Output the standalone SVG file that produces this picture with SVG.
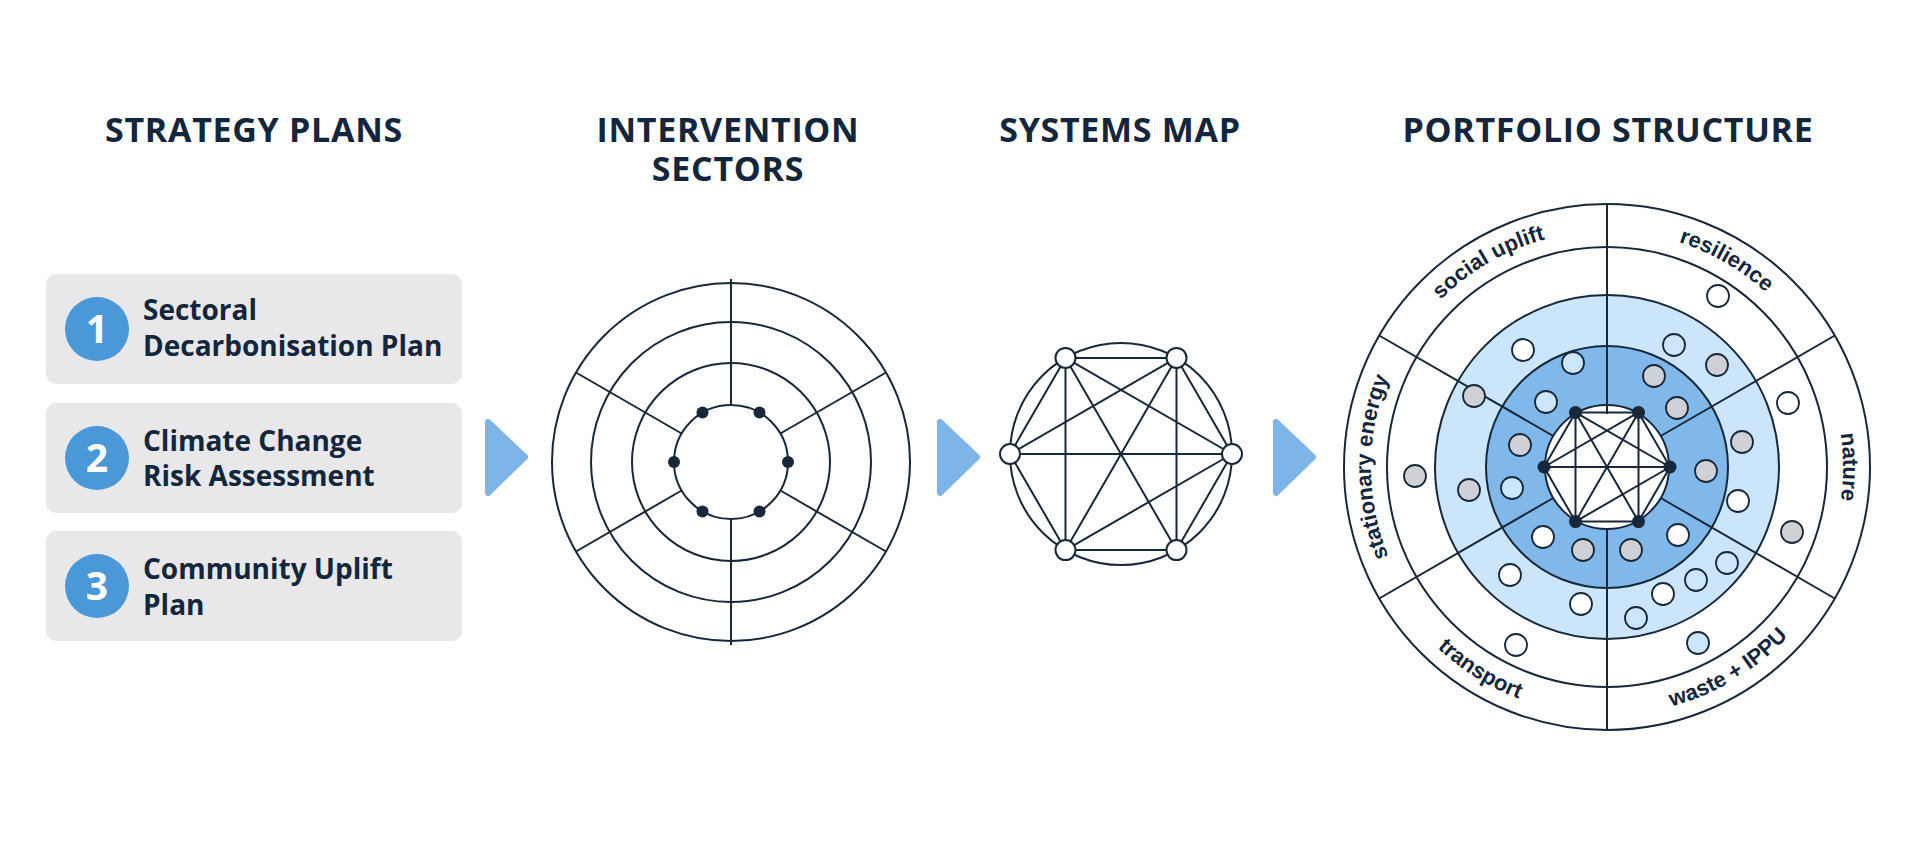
<svg xmlns="http://www.w3.org/2000/svg" width="1920" height="843" viewBox="0 0 1920 843">
<style>
.title{font-family:"Open Sans","Noto Sans",sans-serif;font-weight:700;font-size:34px;fill:#13263b;letter-spacing:0.7px;text-anchor:middle}
.box{fill:#e8e8eb}
.num{fill:#4a98d8}
.numt{font-family:"Open Sans","Noto Sans",sans-serif;font-weight:700;font-size:39px;fill:#ffffff;text-anchor:middle}
.lbl{font-family:"Open Sans","Noto Sans",sans-serif;font-weight:700;font-size:28px;fill:#13263b}
.ln{fill:none;stroke:#17283a;stroke-width:2}
.arrow{fill:#7db5e8;stroke:#7db5e8;stroke-width:6;stroke-linejoin:round}
.nodew{fill:#ffffff;stroke:#17283a;stroke-width:2}
.noded{fill:#17283a}
.arc{font-family:"Liberation Sans",Arial,sans-serif;font-weight:700;font-size:22px;fill:#13263b}
.dw{fill:#ffffff;stroke:#17283a;stroke-width:1.8}
.dg{fill:#cfd1d7;stroke:#17283a;stroke-width:1.8}
.db{fill:#cce6fb;stroke:#17283a;stroke-width:1.8}
</style>
<defs>
<path id="p-social" d="M1371,467 A236,236 0 0 1 1725,262.6"/>
<path id="p-res" d="M1489,262.6 A236,236 0 0 1 1843,467"/>
<path id="p-nat" d="M1725,262.6 A236,236 0 0 1 1725,671.4"/>
<path id="p-stat" d="M1489,671.4 A236,236 0 0 1 1489,262.6"/>
<path id="p-trans" d="M1359.2,458.3 A248,248 0 0 0 1723.4,686"/>
<path id="p-waste" d="M1486.8,683.9 A248,248 0 0 0 1854.96,462.7"/>
</defs>
<rect width="1920" height="843" fill="#ffffff"/>

<g id="titles">
<text class="title" x="254" y="142">STRATEGY PLANS</text>
<text class="title" x="728" y="142">INTERVENTION</text>
<text class="title" x="728" y="181">SECTORS</text>
<text class="title" x="1120" y="142">SYSTEMS MAP</text>
<text class="title" x="1608" y="142">PORTFOLIO STRUCTURE</text>
</g>

<g id="plan-1">
<rect class="box" x="46" y="274" width="416" height="110" rx="10"/>
<circle class="num" cx="97" cy="329" r="32"/>
<text class="numt" x="97" y="343">1</text>
<text class="lbl" x="143" y="320">Sectoral</text>
<text class="lbl" x="143" y="356">Decarbonisation Plan</text>
</g>
<g id="plan-2">
<rect class="box" x="46" y="403" width="416" height="110" rx="10"/>
<circle class="num" cx="97" cy="458" r="32"/>
<text class="numt" x="97" y="472">2</text>
<text class="lbl" x="143" y="451">Climate Change</text>
<text class="lbl" x="143" y="486">Risk Assessment</text>
</g>
<g id="plan-3">
<rect class="box" x="46" y="531" width="416" height="110" rx="10"/>
<circle class="num" cx="97" cy="586" r="32"/>
<text class="numt" x="97" y="600">3</text>
<text class="lbl" x="143" y="579">Community Uplift</text>
<text class="lbl" x="143" y="615">Plan</text>
</g>

<g id="intervention-sectors">
<circle class="ln" cx="731" cy="462" r="179"/>
<circle class="ln" cx="731" cy="462" r="140"/>
<circle class="ln" cx="731" cy="462" r="99"/>
<circle class="ln" cx="731" cy="462" r="57"/>
<path class="ln" d="M731,279V405 M731,519V645 M780.4,433.5L886,372.5 M681.6,433.5L576,372.5 M681.6,490.5L576,551.5 M780.4,490.5L886,551.5"/>
<circle class="noded" cx="788" cy="462" r="6"/>
<circle class="noded" cx="759.5" cy="412.6" r="6"/>
<circle class="noded" cx="702.5" cy="412.6" r="6"/>
<circle class="noded" cx="674" cy="462" r="6"/>
<circle class="noded" cx="702.5" cy="511.4" r="6"/>
<circle class="noded" cx="759.5" cy="511.4" r="6"/>
</g>

<g id="systems-map">
<circle class="ln" cx="1121" cy="454" r="111"/>
<path class="ln" d="M1065.5,357.9L1176.5,357.9 M1065.5,550.1L1176.5,550.1 M1010,454L1232,454 M1065.5,357.9L1065.5,550.1 M1176.5,357.9L1176.5,550.1 M1065.5,357.9L1010,454 M1010,454L1065.5,550.1 M1176.5,357.9L1232,454 M1232,454L1176.5,550.1 M1065.5,357.9L1232,454 M1176.5,357.9L1010,454 M1065.5,357.9L1176.5,550.1 M1176.5,357.9L1065.5,550.1 M1065.5,550.1L1232,454"/>
<circle class="nodew" cx="1065.5" cy="357.9" r="10"/>
<circle class="nodew" cx="1176.5" cy="357.9" r="10"/>
<circle class="nodew" cx="1010" cy="454" r="10"/>
<circle class="nodew" cx="1232" cy="454" r="10"/>
<circle class="nodew" cx="1065.5" cy="550.1" r="10"/>
<circle class="nodew" cx="1176.5" cy="550.1" r="10"/>
</g>

<g id="portfolio-structure">
<circle class="ln" cx="1607" cy="467" r="263" fill="#ffffff"/>
<circle class="ln" cx="1607" cy="467" r="220"/>
<circle cx="1607" cy="467" r="172" fill="#cbe5fa" stroke="#17283a" stroke-width="2"/>
<circle cx="1607" cy="467" r="121" fill="#80b8ea" stroke="#17283a" stroke-width="2"/>
<circle cx="1607" cy="467" r="62" fill="#ffffff" stroke="#17283a" stroke-width="2"/>
<path class="ln" d="M1607,204V414 M1607,529V730 M1660.7,436L1834.8,335.5 M1553.3,436L1379.2,335.5 M1553.3,498L1379.2,598.5 M1660.7,498L1834.8,598.5"/>
<path class="ln" d="M1575.5,412.4L1638.5,412.4 M1575.5,521.6L1638.5,521.6 M1544,467L1670,467 M1575.5,412.4L1575.5,521.6 M1638.5,412.4L1638.5,521.6 M1575.5,412.4L1544,467 M1544,467L1575.5,521.6 M1638.5,412.4L1670,467 M1670,467L1638.5,521.6 M1575.5,412.4L1670,467 M1638.5,412.4L1544,467 M1575.5,412.4L1638.5,521.6 M1638.5,412.4L1575.5,521.6 M1575.5,521.6L1670,467"/>
<circle class="noded" cx="1575.5" cy="412.4" r="6.5"/>
<circle class="noded" cx="1638.5" cy="412.4" r="6.5"/>
<circle class="noded" cx="1544" cy="467" r="6.5"/>
<circle class="noded" cx="1670" cy="467" r="6.5"/>
<circle class="noded" cx="1575.5" cy="521.6" r="6.5"/>
<circle class="noded" cx="1638.5" cy="521.6" r="6.5"/>
<circle class="dw" cx="1718" cy="296" r="11"/>
<circle class="dw" cx="1523" cy="350" r="11"/>
<circle class="dw" cx="1788" cy="403" r="11"/>
<circle class="dw" cx="1738" cy="501" r="11"/>
<circle class="dw" cx="1543" cy="537" r="11"/>
<circle class="dw" cx="1678" cy="535" r="11"/>
<circle class="dw" cx="1510" cy="575" r="11"/>
<circle class="dw" cx="1663" cy="594" r="11"/>
<circle class="dw" cx="1581" cy="604" r="11"/>
<circle class="dw" cx="1516" cy="645" r="11"/>
<circle class="dg" cx="1717" cy="365" r="11"/>
<circle class="dg" cx="1654" cy="376" r="11"/>
<circle class="dg" cx="1474" cy="396" r="11"/>
<circle class="dg" cx="1677" cy="408" r="11"/>
<circle class="dg" cx="1520" cy="445" r="11"/>
<circle class="dg" cx="1742" cy="442" r="11"/>
<circle class="dg" cx="1706" cy="471" r="11"/>
<circle class="dg" cx="1415" cy="476" r="11"/>
<circle class="dg" cx="1469" cy="490" r="11"/>
<circle class="dg" cx="1583" cy="550" r="11"/>
<circle class="dg" cx="1631" cy="550" r="11"/>
<circle class="dg" cx="1792" cy="532" r="11"/>
<circle class="db" cx="1573" cy="363" r="11"/>
<circle class="db" cx="1674" cy="345" r="11"/>
<circle class="db" cx="1546" cy="402" r="11"/>
<circle class="db" cx="1512" cy="488" r="11"/>
<circle class="db" cx="1727" cy="563" r="11"/>
<circle class="db" cx="1696" cy="580" r="11"/>
<circle class="db" cx="1636" cy="618" r="11"/>
<circle class="db" cx="1698" cy="643" r="11"/>
<text class="arc"><textPath href="#p-social" startOffset="50%" text-anchor="middle">social uplift</textPath></text>
<text class="arc"><textPath href="#p-res" startOffset="50%" text-anchor="middle">resilience</textPath></text>
<text class="arc"><textPath href="#p-nat" startOffset="50%" text-anchor="middle">nature</textPath></text>
<text class="arc"><textPath href="#p-stat" startOffset="50%" text-anchor="middle">stationary energy</textPath></text>
<text class="arc"><textPath href="#p-trans" startOffset="50%" text-anchor="middle">transport</textPath></text>
<text class="arc"><textPath href="#p-waste" startOffset="50%" text-anchor="middle">waste + IPPU</textPath></text>
</g>

<g id="connectors">
<polygon class="arrow" points="488,422 525,457 488,493"/>
<polygon class="arrow" points="940,422 977,457 940,493"/>
<polygon class="arrow" points="1276,422 1313,457 1276,493"/>
</g>
</svg>
